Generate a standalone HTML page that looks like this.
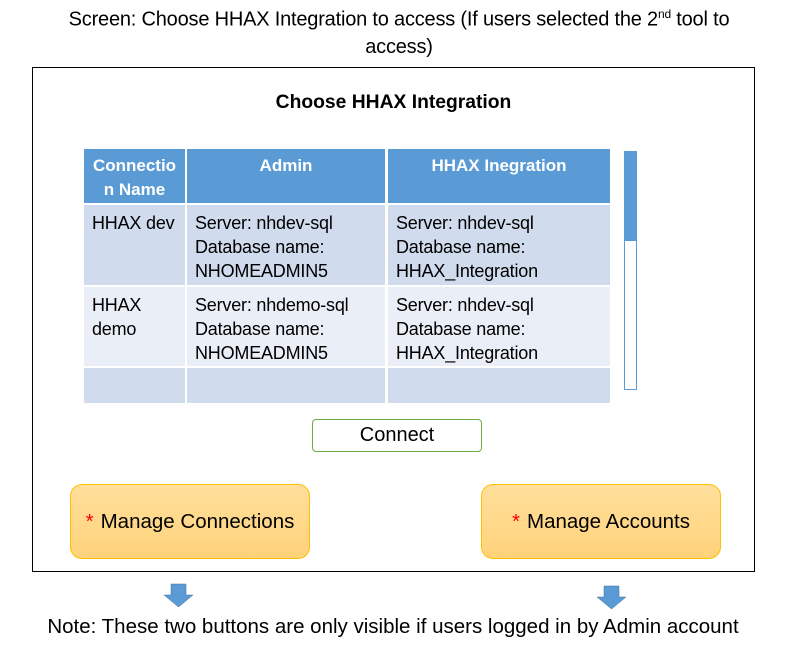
<!DOCTYPE html>
<html><head><meta charset="utf-8"><style>
body{margin:0;width:798px;height:656px;background:#fff;position:relative;overflow:hidden;font-family:"Liberation Sans",sans-serif;color:#000}
.a{position:absolute}
.c{position:absolute;box-sizing:border-box;font-size:18px;line-height:24px;padding:6px 0 0 8px;white-space:nowrap;letter-spacing:-0.2px}
.h{position:absolute;background:#5b9bd5;color:#fff;font-weight:bold;font-size:17px;line-height:24px;text-align:center;box-sizing:border-box;padding-top:5px;white-space:nowrap}
.btn{position:absolute;box-sizing:border-box;border:1px solid #ffc000;border-radius:12px;background:linear-gradient(#ffdf9c,#ffd27a);font-size:20.5px;display:flex;align-items:center;justify-content:center}
.btn b{color:#f00;font-weight:normal;margin-right:7px}
</style></head><body>
<div class="a" style="left:0;width:798px;top:1px;text-align:center;font-size:20px;line-height:27px;letter-spacing:-0.2px">Screen: Choose HHAX Integration to access (If users selected the 2<sup style="font-size:12px">nd</sup> tool to<br>access)</div>
<div class="a" style="left:32px;top:67px;width:723px;height:505px;box-sizing:border-box;border:1px solid #000"></div>
<div class="a" style="left:32px;width:723px;top:92px;text-align:center;font-weight:bold;font-size:19.3px">Choose HHAX Integration</div>

<div class="h" style="left:84px;top:149px;width:101px;height:54px;line-height:24px">Connectio<br>n Name</div>
<div class="h" style="left:187px;top:149px;width:198px;height:54px">Admin</div>
<div class="h" style="left:388px;top:149px;width:222px;height:54px">HHAX Inegration</div>

<div class="c" style="left:84px;top:205px;width:101px;height:80px;background:#d0dcee">HHAX dev</div>
<div class="c" style="left:187px;top:205px;width:198px;height:80px;background:#d0dcee">Server: nhdev-sql<br>Database name:<br>NHOMEADMIN5</div>
<div class="c" style="left:388px;top:205px;width:222px;height:80px;background:#d0dcee">Server: nhdev-sql<br>Database name:<br>HHAX_Integration</div>

<div class="c" style="left:84px;top:287px;width:101px;height:79px;background:#e9eef7">HHAX<br>demo</div>
<div class="c" style="left:187px;top:287px;width:198px;height:79px;background:#e9eef7">Server: nhdemo-sql<br>Database name:<br>NHOMEADMIN5</div>
<div class="c" style="left:388px;top:287px;width:222px;height:79px;background:#e9eef7">Server: nhdev-sql<br>Database name:<br>HHAX_Integration</div>

<div class="a" style="left:84px;top:368px;width:101px;height:35px;background:#d0dcee"></div>
<div class="a" style="left:187px;top:368px;width:198px;height:35px;background:#d0dcee"></div>
<div class="a" style="left:388px;top:368px;width:222px;height:35px;background:#d0dcee"></div>

<div class="a" style="left:624px;top:151px;width:13px;height:239px;box-sizing:border-box;border:1px solid #5b9bd5;background:#fff"></div>
<div class="a" style="left:624px;top:151px;width:12px;height:90px;background:#5b9bd5"></div>

<div class="a" style="left:312px;top:419px;width:170px;height:33px;box-sizing:border-box;border:1px solid #70ad47;border-radius:4px;text-align:center;font-size:20px;line-height:31px">Connect</div>

<div class="btn" style="left:70px;top:484px;width:240px;height:75px"><b>*</b>Manage Connections</div>
<div class="btn" style="left:481px;top:484px;width:240px;height:75px"><b>*</b>Manage Accounts</div>

<svg class="a" style="left:0;top:0" width="798" height="656">
<polygon points="171,584 186,584 186,595 193,595 178.5,607 164,595 171,595" fill="#5b9bd5" stroke="#41719c" stroke-width="0.5"/>
<polygon points="604,586 619,586 619,597 626,597 611.5,609 597,597 604,597" fill="#5b9bd5" stroke="#41719c" stroke-width="0.5"/>
</svg>
<div class="a" style="left:0;width:786px;top:614px;text-align:center;font-size:20.5px;line-height:26px;letter-spacing:0px">Note: These two buttons are only visible if users logged in by Admin account</div>
</body></html>
